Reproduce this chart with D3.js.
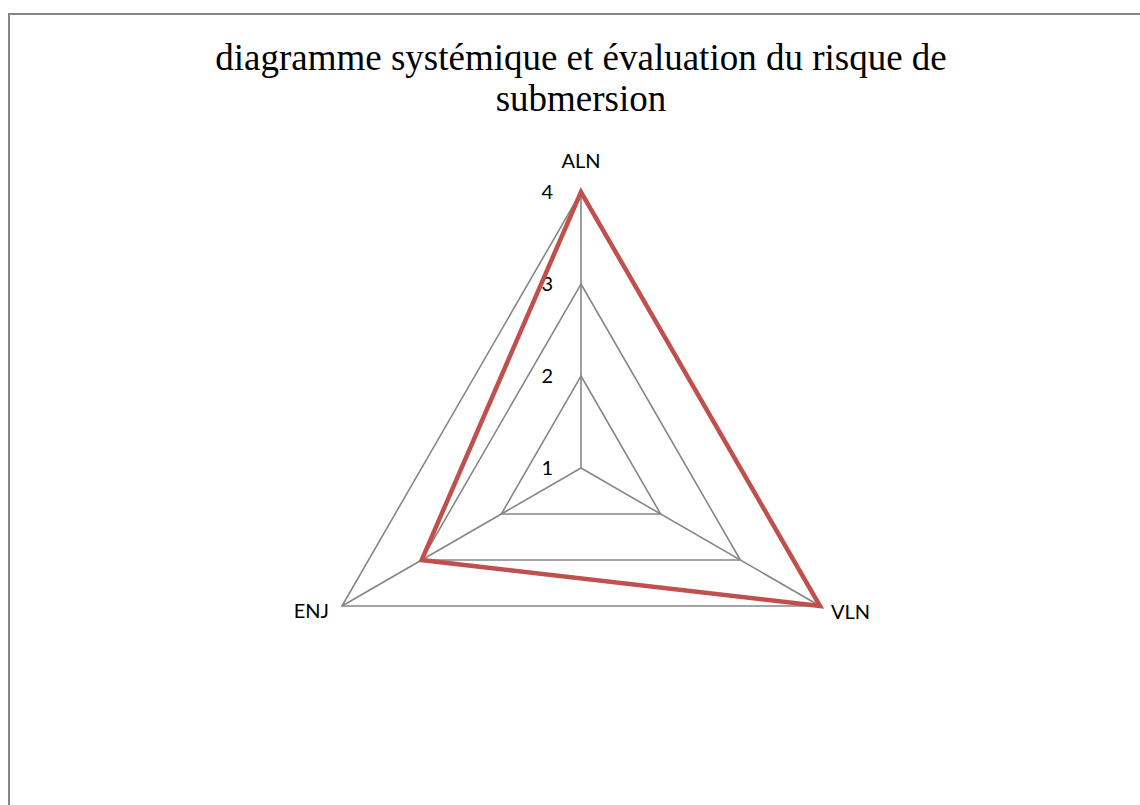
<!DOCTYPE html>
<html>
<head>
<meta charset="utf-8">
<script src="https://cdn.jsdelivr.net/npm/d3@7"></script>
<style>
  html, body { margin: 0; padding: 0; background: #fff; }
  svg { display: block; }
</style>
</head>
<body>
<svg id="chart" width="1140" height="805"></svg>
<script>
// Radar axes and the single risk series
const categories = ["ALN", "VLN", "ENJ"];
const values = [4, 4, 3];
const tickValues = [1, 2, 3, 4];
const titleLines = ["diagramme systémique et évaluation du risque de", "submersion"];

const svg = d3.select("#chart");
const cx = 581, cy = 468, R = 276;

// chart frame
svg.append("rect")
  .attr("x", 9).attr("y", 14)
  .attr("width", 1160).attr("height", 820)
  .attr("fill", "#fff")
  .attr("stroke", "#868686").attr("stroke-width", 2);

// title
svg.append("text")
  .attr("x", 581).attr("y", 70)
  .attr("text-anchor", "middle")
  .attr("font-family", "'Liberation Serif', 'Times New Roman', serif")
  .attr("font-size", 37)
  .selectAll("tspan").data(titleLines).join("tspan")
  .attr("x", 581).attr("dy", (d, i) => i === 0 ? 0 : 41)
  .text(d => d);

const r = d3.scaleLinear().domain([1, 4]).range([0, R]);
const angle = d3.scalePoint().domain(categories).range([0, 2 * Math.PI * 2 / 3]);
const pt = (cat, v) => {
  const a = angle(cat) - Math.PI / 2;
  return [cx + r(v) * Math.cos(a), cy + r(v) * Math.sin(a)];
};

const g = svg.append("g");
const line = d3.line().curve(d3.curveLinearClosed);
const labelFont = "Lato, 'Open Sans', sans-serif";

// grid rings
tickValues.filter(t => t > 1).forEach(t => {
  g.append("path")
    .attr("d", line(categories.map(c => pt(c, t))))
    .attr("fill", "none")
    .attr("stroke", "#868686").attr("stroke-width", 1.6);
});

// spokes
categories.forEach(c => {
  const [x, y] = pt(c, 4);
  g.append("line")
    .attr("x1", cx).attr("y1", cy).attr("x2", x).attr("y2", y)
    .attr("stroke", "#868686").attr("stroke-width", 1.6);
});

// tick labels along the first axis
g.selectAll(".tick").data(tickValues).join("text")
  .attr("x", cx - 28)
  .attr("y", d => pt(categories[0], d)[1] + 7)
  .attr("text-anchor", "end")
  .attr("font-family", labelFont)
  .attr("font-size", 20)
  .text(d => d);

// category labels
const labelPos = {
  ALN: { dx: 0, dy: -24, anchor: "middle" },
  VLN: { dx: 11, dy: 13, anchor: "start" },
  ENJ: { dx: -13, dy: 12, anchor: "end" }
};
categories.forEach(c => {
  const [x, y] = pt(c, 4);
  const p = labelPos[c];
  g.append("text")
    .attr("x", x + p.dx).attr("y", y + p.dy)
    .attr("text-anchor", p.anchor)
    .attr("font-family", labelFont)
    .attr("font-size", 20)
    .text(c);
});

// data series
g.append("path")
  .attr("d", line(categories.map((c, i) => pt(c, values[i]))))
  .attr("fill", "none")
  .attr("stroke", "#C0504D").attr("stroke-width", 4.5)
  .attr("stroke-linejoin", "miter");
</script>
</body>
</html>
